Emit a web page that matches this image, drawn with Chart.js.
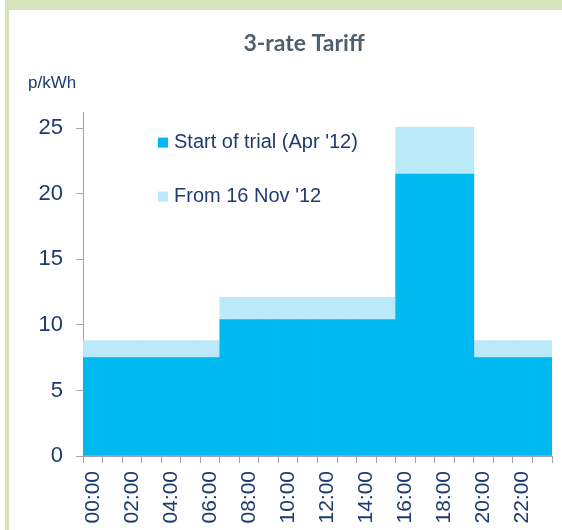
<!DOCTYPE html>
<html>
<head>
<meta charset="utf-8">
<script src="https://cdn.jsdelivr.net/npm/chart.js@4/dist/chart.umd.min.js"></script>
<style>
  html, body { margin: 0; padding: 0; overflow: hidden; background: #fff; width: 562px; height: 530px; }
  .frame-top { position: absolute; left: 5px; top: 0; right: 0; height: 10px; background: #d8e4bc; }
  .frame-left { position: absolute; left: 5px; top: 0; width: 4px; height: 530px; background: #d8e4bc; }
  #wrap { position: absolute; left: 9px; top: 10px; }
</style>
</head>
<body>
<div class="frame-top"></div>
<div class="frame-left"></div>
<div id="wrap"><canvas id="canvas" width="600" height="526"></canvas></div>
<script>
// hourly slots, one bar per hour
var hours = ['00:00', '01:00', '02:00', '03:00', '04:00', '05:00', '06:00', '07:00',
             '08:00', '09:00', '10:00', '11:00', '12:00', '13:00', '14:00', '15:00',
             '16:00', '17:00', '18:00', '19:00', '20:00', '21:00', '22:00', '23:00'];

// p/kWh at start of trial (Apr '12)
var startRates = [7.5, 7.5, 7.5, 7.5, 7.5, 7.5, 7.5,
                  10.4, 10.4, 10.4, 10.4, 10.4, 10.4, 10.4, 10.4, 10.4,
                  21.5, 21.5, 21.5, 21.5,
                  7.5, 7.5, 7.5, 7.5];

// p/kWh from 16 Nov '12
var novRates = [8.8, 8.8, 8.8, 8.8, 8.8, 8.8, 8.8,
                12.1, 12.1, 12.1, 12.1, 12.1, 12.1, 12.1, 12.1, 12.1,
                25.1, 25.1, 25.1, 25.1,
                8.8, 8.8, 8.8, 8.8];

var yTicks = [0, 5, 10, 15, 20, 25];

var navy = '#1f3a6e';
var axisGray = '#a3a3b5';

// legend + unit label drawn inside the plot like the original
var insideLegend = {
  id: 'insideLegend',
  afterLayout: function (chart) {
    // title sits a bit right of the canvas centre in the original
    chart.titleBlock.left += 28;
  },
  afterDraw: function (chart) {
    var ctx = chart.ctx;
    var area = chart.chartArea;
    ctx.save();
    ctx.fillStyle = navy;
    ctx.font = '17px "Liberation Sans", Arial, sans-serif';
    ctx.textBaseline = 'alphabetic';
    ctx.textAlign = 'left';
    ctx.fillText('p/kWh', 19, 78);

    ctx.font = '20px "Liberation Sans", Arial, sans-serif';
    chart.data.datasets.forEach(function (ds, i) {
      var base = area.top + 35 + i * 54;
      ctx.fillStyle = ds.backgroundColor;
      ctx.fillRect(area.left + 75, base - 10, 10, 10);
      ctx.fillStyle = navy;
      ctx.fillText(ds.label, area.left + 91, base);
    });
    ctx.restore();
  }
};

var canvas = document.getElementById('canvas');
var chart = new Chart(canvas, {
  type: 'bar',
  data: {
    labels: hours,
    datasets: [
      {
        label: "Start of trial (Apr '12)",
        data: startRates,
        backgroundColor: '#00b9f0',
        grouped: false,
        order: 1,
        barPercentage: 1,
        categoryPercentage: 1
      },
      {
        label: "From 16 Nov '12",
        data: novRates,
        backgroundColor: '#bae9f9',
        grouped: false,
        order: 2,
        barPercentage: 1,
        categoryPercentage: 1
      }
    ]
  },
  options: {
    responsive: false,
    animation: false,
    layout: { padding: { left: 19, right: 57, top: 0, bottom: 0 } },
    plugins: {
      legend: { display: false },
      tooltip: { enabled: false },
      title: {
        display: true,
        text: '3-rate Tariff',
        color: '#4f5e6d',
        font: { family: 'Lato, "Open Sans", sans-serif', size: 23, weight: 'bold' },
        padding: { top: 20, bottom: 55 }
      }
    },
    scales: {
      x: {
        offset: true,
        grid: { display: true, drawOnChartArea: false, drawTicks: true, tickLength: 7, color: axisGray, offset: true },
        border: { display: true, color: axisGray, width: 1 },
        ticks: {
          autoSkip: false,
          maxRotation: 90,
          minRotation: 90,
          padding: 8,
          color: navy,
          font: { family: '"Liberation Sans", Arial, sans-serif', size: 21 },
          callback: function (value, index) {
            return index % 2 === 0 ? hours[index] : '';
          }
        },
        afterFit: function (scale) { scale.height = 80; }
      },
      y: {
        min: 0,
        max: 26.2,
        grid: { display: true, drawOnChartArea: false, drawTicks: true, tickLength: 7, color: axisGray },
        border: { display: true, color: axisGray, width: 1 },
        afterBuildTicks: function (scale) {
          scale.ticks = yTicks.map(function (v) { return { value: v }; });
        },
        ticks: {
          includeBounds: false,
          padding: 13,
          color: navy,
          font: { family: '"Liberation Sans", Arial, sans-serif', size: 22 }
        },
        afterFit: function (scale) { scale.width = 55; }
      }
    }
  },
  plugins: [insideLegend]
});
</script>
</body>
</html>
